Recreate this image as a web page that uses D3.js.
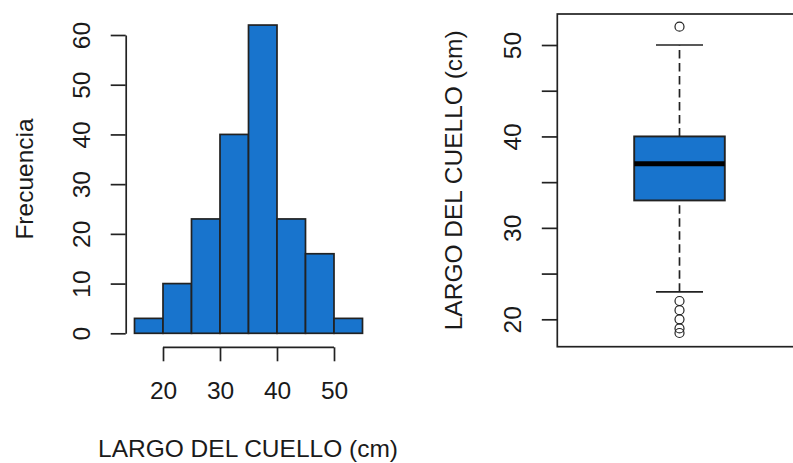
<!DOCTYPE html>
<html>
<head>
<meta charset="utf-8">
<script src="https://cdn.jsdelivr.net/npm/d3@7"></script>
<style>
  body { margin: 0; background: #fff; }
  svg text { font-family: "Liberation Sans", Arial, sans-serif; font-size: 24.5px; fill: #1a1a1a; }
</style>
</head>
<body>
<div id="chart"></div>
<script>
// histogram data
var binEdges = [15, 20, 25, 30, 35, 40, 45, 50, 55];
var counts = [3, 10, 23, 40, 62, 23, 16, 3];
var histYTicks = [0, 10, 20, 30, 40, 50, 60];
var histXTicks = [20, 30, 40, 50];

// boxplot data
var boxStats = [23, 33, 37, 40, 50]; // lower whisker, q1, median, q3, upper whisker
var outliers = [52, 22, 21, 20, 19, 18.5];
var boxTicks = [20, 25, 30, 35, 40, 45, 50];
var boxTickLabels = [20, 30, 40, 50];

var fill = "#1874CD";
var ink = "#222";
var lw = 1.7;

var svg = d3.select("#chart")
  .append("svg")
  .attr("width", 793)
  .attr("height", 463);

/* ---- histogram ---- */
var x = d3.scaleLinear().domain([15, 55]).range([134.5, 362.5]);
var y = d3.scaleLinear().domain([0, 60]).range([333.3, 35]);

var bins = counts.map(function(c, i){
  return { x0: binEdges[i], x1: binEdges[i + 1], n: c };
});

svg.append("g").selectAll("rect")
  .data(bins)
  .enter().append("rect")
  .attr("x", function(d){ return x(d.x0); })
  .attr("y", function(d){ return y(d.n); })
  .attr("width", function(d){ return x(d.x1) - x(d.x0); })
  .attr("height", function(d){ return y(0) - y(d.n); })
  .style("fill", fill)
  .style("stroke", ink)
  .style("stroke-width", lw);

var yAxis = svg.append("g")
  .attr("transform", "translate(125.7,0)")
  .call(d3.axisLeft(y).tickValues(histYTicks).tickSize(15).tickSizeOuter(0));

var xAxis = svg.append("g")
  .attr("transform", "translate(0,347.3)")
  .call(d3.axisBottom(x).tickValues(histXTicks).tickSize(14).tickSizeOuter(0));

// R only draws the axis line between the first and last tick
xAxis.select(".domain").remove();
xAxis.append("line")
  .attr("x1", x(histXTicks[0]))
  .attr("x2", x(histXTicks[histXTicks.length - 1]));

xAxis.selectAll("text")
  .attr("y", 52)
  .attr("dy", 0);

svg.append("text")
  .attr("transform", "translate(33,179) rotate(-90)")
  .attr("text-anchor", "middle")
  .text("Frecuencia");

svg.append("text")
  .attr("x", 248)
  .attr("y", 457)
  .attr("text-anchor", "middle")
  .text("LARGO DEL CUELLO (cm)");

/* ---- boxplot ---- */
var by = d3.scaleLinear().domain([20, 50]).range([319.3, 45]);
var cx = 679.5, halfBox = 45.3, halfCap = 23.5;

svg.append("rect")
  .attr("x", 557.3)
  .attr("y", 14)
  .attr("width", 300)
  .attr("height", 332.7)
  .style("fill", "none")
  .style("stroke", ink)
  .style("stroke-width", lw);

var bAxis = svg.append("g")
  .attr("transform", "translate(557.3,0)")
  .call(d3.axisLeft(by).tickValues(boxTicks).tickSize(15.5).tickSizeOuter(0)
    .tickFormat(function(d){ return boxTickLabels.indexOf(d) >= 0 ? d : ""; }));
bAxis.select(".domain").remove();

svg.append("text")
  .attr("transform", "translate(462,180.3) rotate(-90)")
  .attr("text-anchor", "middle")
  .text("LARGO DEL CUELLO (cm)");

[yAxis, bAxis].forEach(function(ax){
  ax.selectAll("text")
    .attr("transform", "rotate(-90)")
    .attr("x", 0)
    .attr("y", -36)
    .attr("dy", 0)
    .attr("text-anchor", "middle");
});

[yAxis, xAxis, bAxis].forEach(function(ax){
  ax.selectAll("line, path").style("stroke", ink).style("stroke-width", lw);
  ax.selectAll("text").style("font-size", "24.5px").style("fill", "#1a1a1a")
    .style("font-family", "'Liberation Sans', Arial, sans-serif");
});

var bp = svg.append("g");

// whiskers
bp.selectAll("line.whisker")
  .data([[boxStats[0], boxStats[1]], [boxStats[3], boxStats[4]]])
  .enter().append("line")
  .attr("x1", cx).attr("x2", cx)
  .attr("y1", function(d){ return by(d[0]); })
  .attr("y2", function(d){ return by(d[1]); })
  .style("stroke", ink)
  .style("stroke-width", lw)
  .style("stroke-dasharray", "8.5,4.5");

bp.selectAll("line.cap")
  .data([boxStats[0], boxStats[4]])
  .enter().append("line")
  .attr("x1", cx - halfCap).attr("x2", cx + halfCap)
  .attr("y1", function(d){ return by(d); })
  .attr("y2", function(d){ return by(d); })
  .style("stroke", ink)
  .style("stroke-width", lw);

bp.append("rect")
  .attr("x", cx - halfBox)
  .attr("y", by(boxStats[3]))
  .attr("width", halfBox * 2)
  .attr("height", by(boxStats[1]) - by(boxStats[3]))
  .style("fill", fill)
  .style("stroke", ink)
  .style("stroke-width", 1.9);

bp.append("line")
  .attr("x1", cx - halfBox).attr("x2", cx + halfBox)
  .attr("y1", by(boxStats[2])).attr("y2", by(boxStats[2]))
  .style("stroke", "#000")
  .style("stroke-width", 5);

bp.selectAll("circle")
  .data(outliers)
  .enter().append("circle")
  .attr("cx", cx)
  .attr("cy", function(d){ return by(d); })
  .attr("r", 4.5)
  .style("fill", "none")
  .style("stroke", ink)
  .style("stroke-width", 1.2);
</script>
</body>
</html>
